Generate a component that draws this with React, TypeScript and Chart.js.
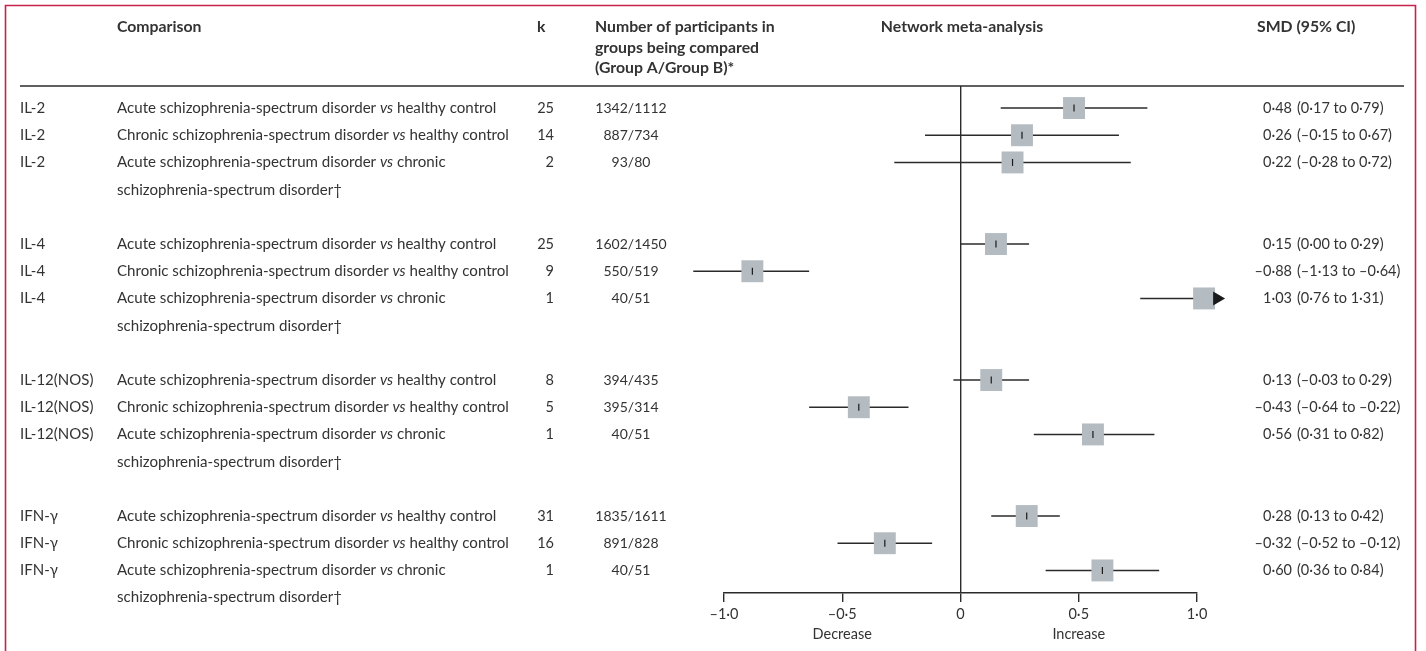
import React, { useEffect, useRef } from 'react';
import { Chart, registerables } from 'chart.js';

Chart.register(...registerables);

// ---------- data ----------
const groups = ['IL-2', 'IL-4', 'IL-12(NOS)', 'IFN-γ'];
const comparisonA = [
  'Acute schizophrenia-spectrum disorder',
  'Chronic schizophrenia-spectrum disorder',
  'Acute schizophrenia-spectrum disorder',
];
const comparisonB = ['healthy control', 'healthy control', 'chronic'];
const comparisonCont = ['', '', 'schizophrenia-spectrum disorder†'];
const kValues = [25, 14, 2, 25, 9, 1, 8, 5, 1, 31, 16, 1];
const participants = [
  '1342/1112', '887/734', '93/80',
  '1602/1450', '550/519', '40/51',
  '394/435', '395/314', '40/51',
  '1835/1611', '891/828', '40/51',
];
const smd = [0.48, 0.26, 0.22, 0.15, -0.88, 1.03, 0.13, -0.43, 0.56, 0.28, -0.32, 0.6];
const ciLow = [0.17, -0.15, -0.28, 0.0, -1.13, 0.76, -0.03, -0.64, 0.31, 0.13, -0.52, 0.36];
const ciHigh = [0.79, 0.67, 0.72, 0.29, -0.64, 1.31, 0.29, -0.22, 0.82, 0.42, -0.12, 0.84];
const xTickValues = [-1, -0.5, 0, 0.5, 1];
const xTickLabels = ['–1·0', '–0·5', '0', '0·5', '1·0'];
const directionLabels: Record<string, string> = { '-0.5': 'Decrease', '0.5': 'Increase' };
const headerParticipants = ['Number of participants in', 'groups being compared', '(Group A/Group B)*'];
const arrowLimit = 1.085;

// ---------- styling ----------
const FONT_FAMILY = 'Lato, "Open Sans", sans-serif';
const FS = 14.5;
const TEXT = '#333333';
const LINE = '#2b2b2b';
const BOX = '#b4bcc2';
const FRAME = '#c8224c';

const rowIndex = (i: number) => Math.floor(i / 3) * 5 + (i % 3);
const fmt = (v: number) => v.toFixed(2).replace('.', '·').replace('-', '–');

const textPlugin = {
  id: 'forestText',
  afterDatasetsDraw(chart: any) {
    const ctx = chart.ctx as CanvasRenderingContext2D;
    const xs = chart.scales.x;
    const ys = chart.scales.y;
    ctx.save();
    ctx.fillStyle = '#1a1a1a';
    smd.forEach((_, i) => {
      if (ciHigh[i] <= arrowLimit) return;
      const px = xs.getPixelForValue(arrowLimit);
      const py = ys.getPixelForValue(rowIndex(i));
      ctx.beginPath();
      ctx.moveTo(px + 8, py);
      ctx.lineTo(px - 4, py - 7);
      ctx.lineTo(px - 4, py + 7);
      ctx.closePath();
      ctx.fill();
    });
    ctx.restore();
  },
  afterDraw(chart: any) {
    const ctx = chart.ctx as CanvasRenderingContext2D;
    const y = chart.scales.y;
    const top = chart.chartArea.top;
    ctx.save();
    // frame
    ctx.strokeStyle = FRAME;
    ctx.lineWidth = 1.6;
    ctx.beginPath();
    ctx.moveTo(5.5, 651);
    ctx.lineTo(5.5, 5.5);
    ctx.lineTo(1415.5, 5.5);
    ctx.lineTo(1415.5, 651);
    ctx.stroke();
    // header separator
    ctx.strokeStyle = LINE;
    ctx.lineWidth = 1.4;
    ctx.beginPath();
    ctx.moveTo(20, top);
    ctx.lineTo(1404, top);
    ctx.stroke();

    ctx.fillStyle = TEXT;
    ctx.textBaseline = 'middle';
    const font = (size: number, style = '') => `${style} ${size}px ${FONT_FAMILY}`.trim();
    const bold = font(15.8, 'bold');

    // headers
    ctx.font = bold;
    ctx.textAlign = 'left';
    ctx.fillText('Comparison', 117, 27);
    ctx.fillText('k', 537, 27);
    headerParticipants.forEach((t, i) => ctx.fillText(t, 595, 27 + i * 20.5));
    ctx.textAlign = 'center';
    ctx.fillText('Network meta-analysis', 962, 27);
    ctx.textAlign = 'left';
    ctx.fillText('SMD (95% CI)', 1257, 27);

    // rows
    smd.forEach((v, i) => {
      const r = rowIndex(i);
      const py = y.getPixelForValue(r);
      const j = i % 3;
      ctx.textAlign = 'left';
      ctx.font = font(15);
      ctx.fillText(groups[Math.floor(i / 3)], 20, py);
      ctx.font = font(15.1);
      let x = 117;
      const a = comparisonA[j] + ' ';
      ctx.fillText(a, x, py);
      x += ctx.measureText(a).width;
      ctx.font = font(15.1, 'italic');
      ctx.fillText('vs', x, py);
      x += ctx.measureText('vs').width;
      ctx.font = font(15.1);
      ctx.fillText(' ' + comparisonB[j], x, py);
      if (comparisonCont[j]) {
        ctx.fillText(comparisonCont[j], 117, y.getPixelForValue(r + 1));
      }
      ctx.font = font(FS);
      ctx.textAlign = 'right';
      ctx.fillText(String(kValues[i]), 554, py);
      ctx.font = font(14);
      ctx.textAlign = 'center';
      ctx.fillText(participants[i], 631, py);
      ctx.font = font(FS);
      ctx.textAlign = 'right';
      ctx.fillText(fmt(v), 1292, py);
      ctx.textAlign = 'left';
      ctx.fillText(`(${fmt(ciLow[i])} to ${fmt(ciHigh[i])})`, 1297, py);
    });
    ctx.restore();
  },
};

export default function App() {
  const ref = useRef<HTMLCanvasElement | null>(null);
  useEffect(() => {
    if (!ref.current) return;
    const ciDatasets = smd.map((_, i) => ({
      type: 'line' as const,
      data: [
        { x: ciLow[i], y: rowIndex(i) },
        { x: Math.min(ciHigh[i], arrowLimit), y: rowIndex(i) },
      ],
      borderColor: LINE,
      borderWidth: 1.5,
      pointRadius: 0,
      clip: false as any,
      order: 4,
    }));
    const chart = new Chart(ref.current, {
      type: 'scatter',
      data: {
        datasets: [
          {
            type: 'scatter',
            data: smd.map((v, i) => ({ x: v, y: rowIndex(i) })),
            pointStyle: 'line',
            rotation: 90,
            pointRadius: 3.5,
            borderColor: '#1a1a1a',
            borderWidth: 1.2,
            clip: false as any,
            order: 1,
          },
          {
            type: 'scatter',
            data: smd.map((v, i) => ({ x: v, y: rowIndex(i) })),
            pointStyle: 'rect',
            pointRadius: 15.5,
            backgroundColor: BOX,
            borderWidth: 0,
            clip: false as any,
            order: 3,
          },
          ...ciDatasets,
        ] as any,
      },
      options: {
        animation: false,
        responsive: true,
        maintainAspectRatio: false,
        layout: { padding: { left: 724, right: 229, top: 86, bottom: 0 } },
        plugins: { legend: { display: false }, tooltip: { enabled: false } },
        elements: { point: { hoverRadius: 0 } },
        scales: {
          x: {
            type: 'linear',
            min: -1,
            max: 1,
            afterBuildTicks: (scale: any) => {
              scale.ticks = xTickValues.map((v) => ({ value: v }));
            },
            afterFit: (scale: any) => {
              scale.height = 58;
            },
            grid: {
              drawOnChartArea: true,
              color: (c: any) => (c.tick && c.tick.value === 0 ? LINE : 'rgba(0,0,0,0)'),
              tickColor: LINE,
              lineWidth: 1.4,
              tickLength: 9,
            },
            border: { display: true, color: LINE, width: 1.4 },
            ticks: {
              color: TEXT,
              padding: 3,
              font: { family: FONT_FAMILY, size: FS, lineHeight: 1.35 },
              callback: (value: any) => {
                const idx = xTickValues.indexOf(Number(value));
                const lab = idx >= 0 ? xTickLabels[idx] : '';
                const dir = directionLabels[String(value)];
                return dir ? [lab, dir] : lab;
              },
            },
          },
          y: {
            type: 'linear',
            reverse: true,
            min: -0.81,
            max: 17.83,
            display: false,
          },
        },
      },
      plugins: [textPlugin],
    });
    return () => chart.destroy();
  }, []);
  return (
    <div style={{ position: 'absolute', left: 0, top: 0, width: 1426, height: 651, background: '#fff' }}>
      <canvas ref={ref} />
    </div>
  );
}
